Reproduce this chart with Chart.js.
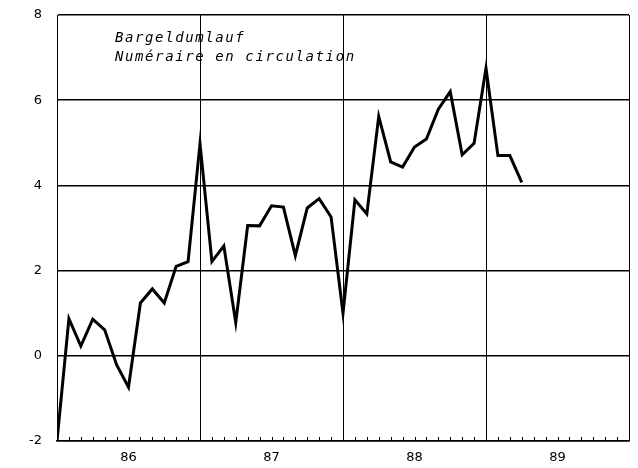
<!DOCTYPE html>
<html>
<head>
<meta charset="utf-8">
<title>Bargeldumlauf</title>
<script src="https://cdn.jsdelivr.net/npm/chart.js@4.4.0/dist/chart.umd.min.js"></script>
<style>
  html, body { margin: 0; padding: 0; background: #fff; }
  #caja { width: 638px; height: 468px; }
</style>
</head>
<body>
<div id="caja"><canvas id="grafico"></canvas></div>
<script>
//Datos mensuales (indice del mes desde el inicio del eje)
const meses = [0,1,2,3,4,5,6,7,8,9,10,11,12,13,14,15,16,17,18,19,20,21,22,23,24,25,26,27,28,29,30,31,32,33,34,35,36,37,38,39];
const valores = [-2.0,0.87,0.23,0.86,0.61,-0.21,-0.74,1.24,1.57,1.24,2.10,2.21,
                 4.98,2.21,2.58,0.78,3.06,3.05,3.52,3.49,2.35,3.47,3.69,3.26,
                 1.0,3.66,3.33,5.62,4.55,4.43,4.90,5.09,5.79,6.20,4.72,4.99,
                 6.75,4.70,4.70,4.07];

//Etiquetas de los años (en el centro de cada año)
const anios = {6: '86', 18: '87', 30: '88', 42: '89'};
const ticksY = [-2, 0, 2, 4, 6, 8];
const texto = ['Bargeldumlauf', 'Numéraire en circulation'];

//Plugin para las marcas de los meses y el texto dentro del grafico
const extras = {
  id: 'extras',
  afterDraw(chart) {
    const ctx = chart.ctx;
    const x = chart.scales.x;
    const area = chart.chartArea;
    ctx.save();
    ctx.strokeStyle = '#000';
    ctx.lineWidth = 1;
    x.ticks.forEach(t => {
      let px = Math.round(x.getPixelForValue(t.value)) + 0.5;
      ctx.beginPath();
      ctx.moveTo(px, area.bottom);
      ctx.lineTo(px, area.bottom - 4);
      ctx.stroke();
    });
    ctx.fillStyle = '#000';
    ctx.font = 'italic 14px "DejaVu Sans Mono"';
    ctx.letterSpacing = '1.6px';
    ctx.textBaseline = 'alphabetic';
    ctx.fillText(texto[0], area.left + 58, area.top + 27);
    ctx.fillText(texto[1], area.left + 58, area.top + 46);
    ctx.restore();
  }
};

let ctx = document.getElementById('grafico').getContext('2d');
let grafico = new Chart(ctx, {
  type: 'line',
  data: {
    labels: meses,
    datasets: [{
      data: meses.map((m, i) => ({x: m, y: valores[i]})),
      borderColor: '#000',
      borderWidth: 3,
      pointRadius: 0,
      tension: 0,
      fill: false
    }]
  },
  options: {
    responsive: true,
    maintainAspectRatio: false,
    animation: false,
    layout: { padding: { top: 15, right: 8, left: 0, bottom: 0 } },
    plugins: { legend: { display: false }, tooltip: { enabled: false } },
    scales: {
      x: {
        type: 'linear',
        min: 0,
        max: 48,
        afterFit(s) { s.height = 27; },
        afterBuildTicks(s) {
          s.ticks = [];
          for (let v = 0; v <= 48; v++) s.ticks.push({value: v});
        },
        ticks: {
          autoSkip: false,
          maxRotation: 0,
          padding: 9,
          color: '#000',
          font: { family: 'DejaVu Sans', size: 13 },
          callback: v => anios[v] || ''
        },
        grid: {
          drawTicks: false,
          lineWidth: 1,
          color: c => (c.tick && c.tick.value % 12 === 0) ? '#000' : 'rgba(0,0,0,0)'
        },
        border: { display: true, color: '#000', width: 1.5 }
      },
      y: {
        min: -2,
        max: 8,
        afterFit(s) { s.width = 57; s.paddingTop = 8; s.paddingBottom = 8; },
        afterBuildTicks(s) { s.ticks = ticksY.map(v => ({value: v})); },
        ticks: {
          padding: 15,
          color: '#000',
          font: { family: 'DejaVu Sans', size: 13 }
        },
        grid: { drawTicks: false, color: '#000', lineWidth: 1.5 },
        border: { display: true, color: '#000', width: 1 }
      }
    }
  },
  plugins: [extras]
});
</script>
</body>
</html>
